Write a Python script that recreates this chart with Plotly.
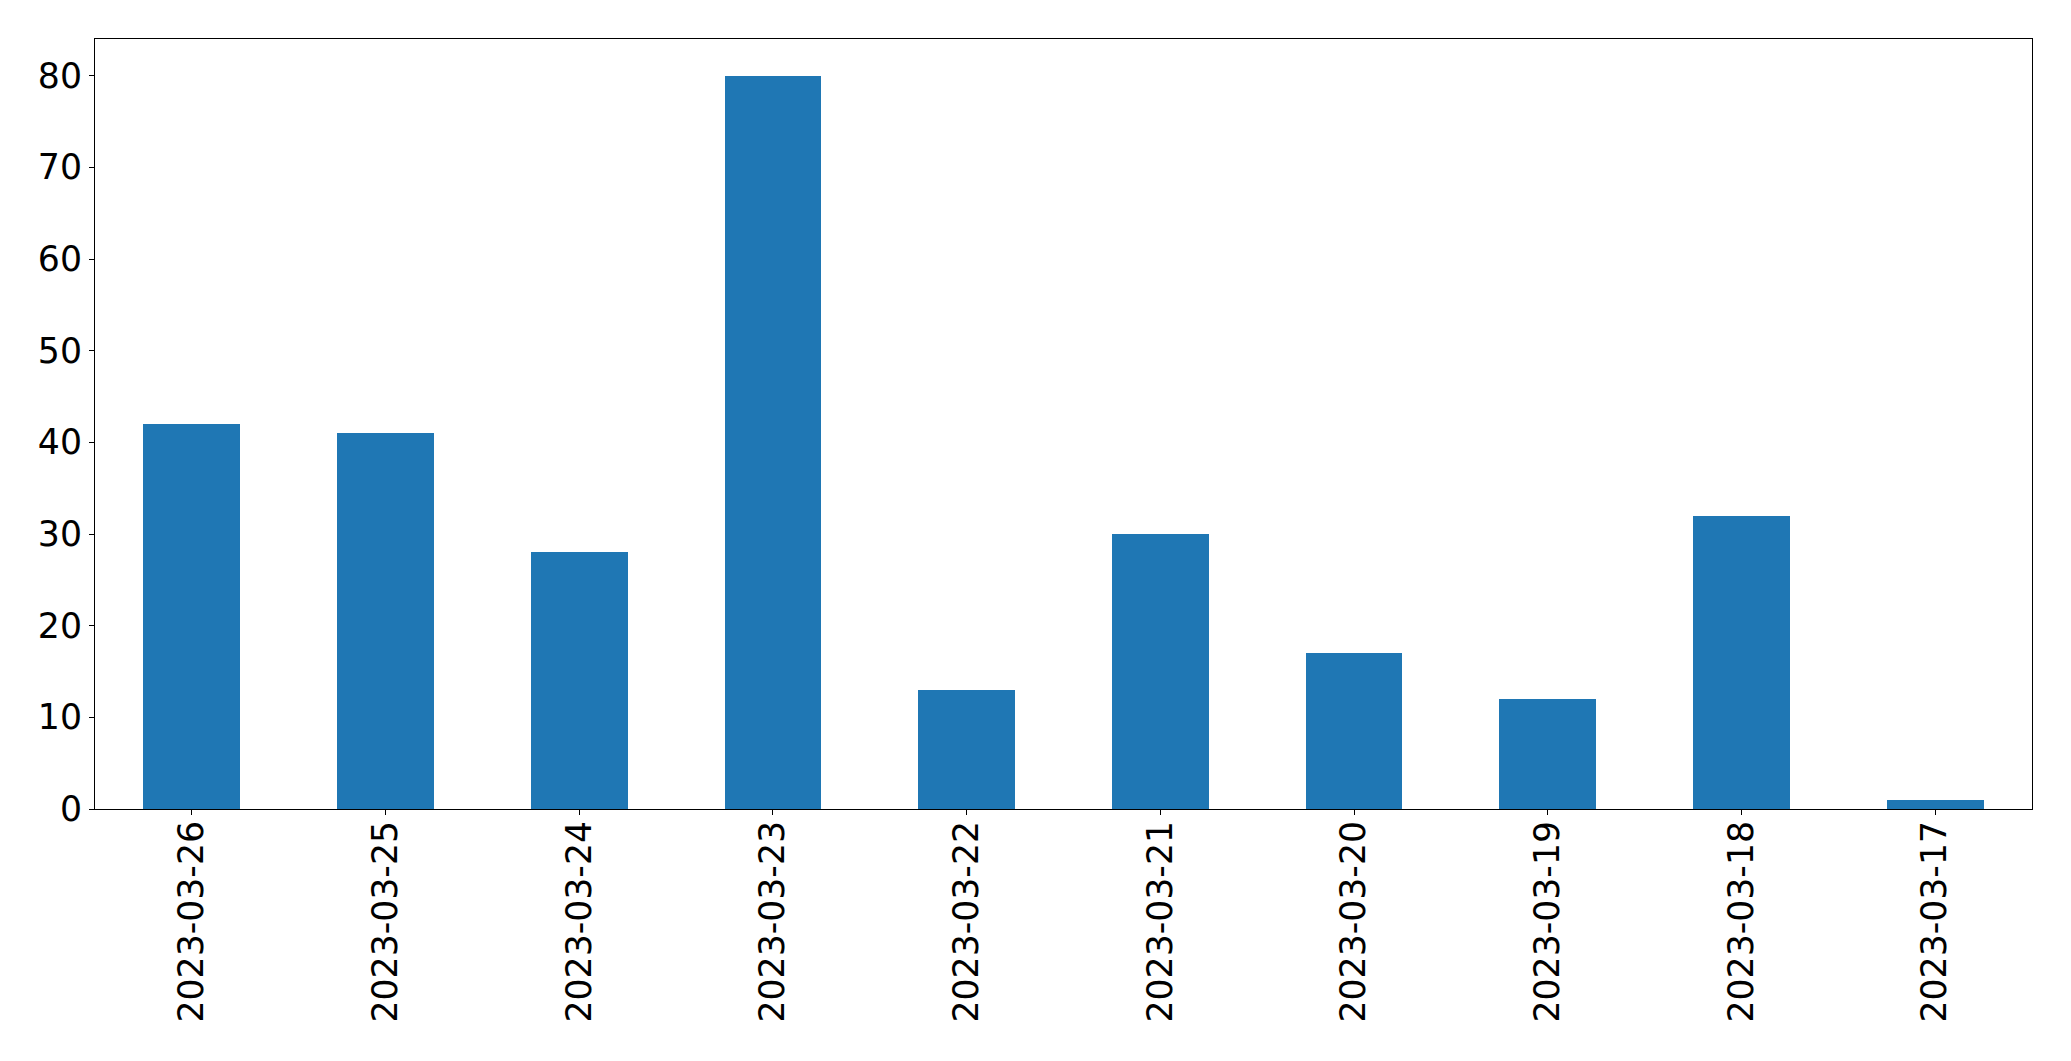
import plotly.graph_objects as go

dates = ["2023-03-26", "2023-03-25", "2023-03-24", "2023-03-23", "2023-03-22",
         "2023-03-21", "2023-03-20", "2023-03-19", "2023-03-18", "2023-03-17"]
counts = [42, 41, 28, 80, 13, 30, 17, 12, 32, 1]
y_ticks = [0, 10, 20, 30, 40, 50, 60, 70, 80]

fig = go.Figure(go.Bar(x=dates, y=counts, width=0.5, marker=dict(color="#1f77b4", line=dict(width=0))))

font = dict(family="DejaVu Sans", size=34.7, color="black")
fig.update_layout(
    width=2063, height=1053,
    margin=dict(l=87, r=39, t=31, b=252),
    paper_bgcolor="white", plot_bgcolor="white",
    showlegend=False,
    bargap=0,
)
fig.update_xaxes(
    type="category", range=[-0.5, 9.5], tickangle=-90, tickfont=font,
    showline=True, linecolor="black", linewidth=1.2, mirror=True,
    ticks="outside", ticklen=5, tickwidth=1.2, tickcolor="black",
    showgrid=False, zeroline=False, ticklabelstandoff=-8,
)
fig.update_yaxes(
    range=[0, 84], tickvals=y_ticks, tickfont=font,
    showline=True, linecolor="black", linewidth=1.2, mirror=True,
    ticks="outside", ticklen=5, tickwidth=1.2, tickcolor="black",
    showgrid=False, zeroline=False, ticklabelstandoff=0,
)
fig.write_html("out.html")
